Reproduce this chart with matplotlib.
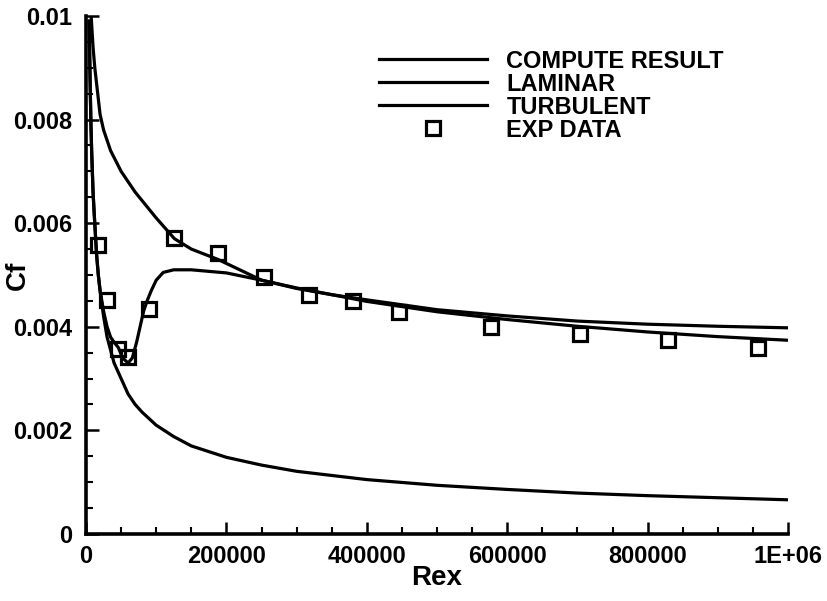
import matplotlib
matplotlib.use("Agg")
import matplotlib.pyplot as plt
from matplotlib.ticker import MultipleLocator, FuncFormatter

plt.rcParams['font.family'] = ['Liberation Sans', 'DejaVu Sans']
plt.rcParams['font.weight'] = 'bold'

# Skin-friction coefficient along a flat plate
compute_rex = [4500, 5000, 6000, 7000, 8000, 10000, 12000, 15000, 17500, 20000, 25000, 30000,
               35000, 40000, 46000, 52000, 60000, 66000, 72000, 77000, 82000, 87000, 93000,
               100000, 110000, 125000, 150000, 200000, 250000, 300000, 350000, 400000, 500000,
               600000, 700000, 800000, 900000, 1000000]
compute_cf = [0.0099, 0.0094, 0.0086, 0.0079, 0.0074, 0.0066, 0.0061, 0.0054, 0.0050, 0.0047,
              0.0043, 0.0040, 0.0038, 0.0037, 0.0036, 0.0034, 0.0033, 0.0034, 0.0037, 0.0040,
              0.0043, 0.0045, 0.0047, 0.0049, 0.00505, 0.0051, 0.0051, 0.00504, 0.0049,
              0.00474, 0.00462, 0.00452, 0.00433, 0.00421, 0.00411, 0.00405, 0.00401, 0.00398]

laminar_rex = [4500, 5000, 6000, 7000, 8000, 10000, 12000, 15000, 17500, 20000, 25000, 30000,
               35000, 40000, 50000, 60000, 70000, 80000, 100000, 125000, 150000, 200000,
               250000, 300000, 400000, 500000, 600000, 700000, 800000, 900000, 1000000]
laminar_cf = [0.0099, 0.0094, 0.0086, 0.0079, 0.0074, 0.0066, 0.0061, 0.0054, 0.0050, 0.0047,
              0.0042, 0.0038, 0.00355, 0.0033, 0.0030, 0.0027, 0.0025, 0.00235, 0.0021, 0.00188,
              0.0017, 0.00148, 0.00133, 0.00121, 0.00105, 0.00094, 0.00086, 0.00079, 0.00074,
              0.00070, 0.00066]

turbulent_rex = [7300, 10000, 12500, 15000, 20000, 25000, 35000, 50000, 70000, 100000, 126000,
                 150000, 188000, 250000, 300000, 400000, 500000, 600000, 700000, 800000,
                 900000, 1000000]
turbulent_cf = [0.0100, 0.0094, 0.0090, 0.0087, 0.0081, 0.0078, 0.0074, 0.0070, 0.0066, 0.0061,
                0.0057, 0.0055, 0.0053, 0.0049, 0.00475, 0.00449, 0.00429, 0.00414, 0.00401,
                0.00390, 0.00381, 0.00374]

exp_rex = [17500, 30000, 46000, 60000, 90000, 126000, 188000, 253000, 317000, 381000,
           446000, 577000, 703000, 829000, 957000]
exp_cf = [0.00558, 0.00452, 0.00358, 0.00342, 0.00434, 0.00571, 0.00542, 0.00496, 0.00461,
          0.00449, 0.00429, 0.00400, 0.00386, 0.00375, 0.00360]

fig = plt.figure(figsize=(8.28, 6.01), dpi=100)
ax = fig.add_axes([0.1039, 0.1115, 0.8478, 0.8619])

lw = 2.3
ax.plot(compute_rex, compute_cf, color='black', lw=lw, label='COMPUTE RESULT')
ax.plot(laminar_rex, laminar_cf, color='black', lw=lw, label='LAMINAR')
ax.plot(turbulent_rex, turbulent_cf, color='black', lw=lw, label='TURBULENT')
ax.plot(exp_rex, exp_cf, linestyle='none', marker='s', ms=10.5, mfc='none',
        mec='black', mew=2.3, label='EXP DATA')

ax.set_xlim(0, 1000000)
ax.set_ylim(0, 0.01)

for side in ('top', 'right'):
    ax.spines[side].set_visible(False)
for side in ('left', 'bottom'):
    ax.spines[side].set_linewidth(2.6)

ax.xaxis.set_major_locator(MultipleLocator(200000))
ax.xaxis.set_minor_locator(MultipleLocator(50000))
ax.yaxis.set_major_locator(MultipleLocator(0.002))
ax.yaxis.set_minor_locator(MultipleLocator(0.0005))


def xfmt(v, pos):
    if abs(v - 1000000) < 1:
        return '1E+06'
    return '%d' % round(v)


def yfmt(v, pos):
    if abs(v) < 1e-12:
        return '0'
    return ('%.3f' % v).rstrip('0')


ax.xaxis.set_major_formatter(FuncFormatter(xfmt))
ax.yaxis.set_major_formatter(FuncFormatter(yfmt))

ax.tick_params(which='major', direction='in', length=9, width=1.8, labelsize=17, pad=8)
ax.tick_params(which='minor', direction='in', length=5, width=1.5)
ax.tick_params(axis='y', which='major', pad=10)

ax.set_xlabel('Rex', fontsize=20, fontweight='bold', labelpad=-2)
ax.set_ylabel('Cf', fontsize=20, fontweight='bold')
ax.yaxis.set_label_coords(-0.078, 0.5)

leg = ax.legend(loc='upper left', bbox_to_anchor=(0.417, 0.935), frameon=False,
                fontsize=17, handlelength=4.6, handletextpad=0.8,
                labelspacing=0.0, borderpad=0, borderaxespad=0)
for t in leg.get_texts():
    t.set_fontweight('bold')

fig.savefig('out.png', dpi=100)
